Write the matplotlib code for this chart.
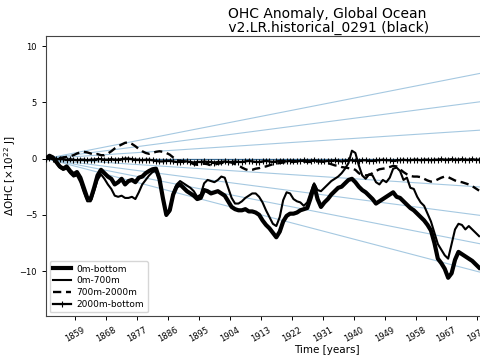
import numpy as np
import matplotlib
matplotlib.use("Agg")
import matplotlib.pyplot as plt

# ---------------- data (annual, mid-year) ----------------
start_year = 1850.5
ohc_0m_bottom = [
    0.0, 0.25, 0.1, -0.3, -0.7, -0.9, -0.7, -1.1, -1.4, -1.2,
    -1.7, -2.6, -3.5, -3.6, -2.6, -1.5, -1.0, -1.3, -1.6, -1.8,
    -2.3, -2.1, -1.8, -2.3, -2.0, -1.9, -2.1, -1.7, -1.6, -1.3,
    -1.1, -0.95, -0.9, -1.8, -3.5, -5.0, -4.6, -3.2, -2.5, -2.3,
    -2.6, -2.9, -3.1, -3.3, -3.6, -3.5, -2.8, -2.9, -3.1, -3.0,
    -2.9, -3.1, -3.3, -3.8, -4.3, -4.5, -4.6, -4.6, -4.5, -4.7,
    -4.7, -4.8, -5.0, -5.5, -5.9, -6.2, -6.6, -7.0, -6.5, -5.6,
    -5.1, -4.9, -4.9, -4.8, -4.6, -4.5, -4.4, -3.5, -2.4, -3.6,
    -4.3, -3.9, -3.6, -3.2, -2.9, -2.6, -2.5, -2.2, -1.9, -1.8,
    -2.1, -2.5, -2.8, -3.0, -3.3, -3.6, -4.0, -3.8, -3.6, -3.4,
    -3.2, -3.0, -3.4, -3.5, -3.8, -4.1, -4.4, -4.6, -4.9, -5.2,
    -5.5, -5.9, -6.4, -7.5, -8.9, -9.3, -9.8, -10.6, -10.2, -9.0,
    -8.3, -8.5, -8.7, -8.9, -9.1, -9.4, -9.7,
]
ohc_0m_700m = [
    0.0, 0.2, 0.0, -0.4, -0.8, -1.0, -0.9, -1.3, -1.6, -1.5,
    -2.1, -3.0, -3.8, -3.8, -2.9, -1.9, -1.4, -1.8, -2.3, -2.7,
    -3.3, -3.4, -3.3, -3.5, -3.5, -3.4, -3.6, -3.0, -2.3, -1.9,
    -1.5, -1.2, -1.1, -1.9, -3.6, -5.1, -4.7, -3.1, -2.3, -2.0,
    -2.2, -2.4, -2.6, -2.9, -3.4, -3.2, -2.2, -1.9, -2.0, -2.1,
    -1.9, -1.6, -1.7, -2.6, -3.5, -4.0, -4.0, -3.8, -3.5, -3.3,
    -3.1, -3.1, -3.4, -3.9, -4.6, -5.2, -5.8, -6.0, -5.2, -3.7,
    -3.0, -3.1, -3.6, -3.8, -3.9, -4.2, -3.9, -3.0, -2.2, -2.8,
    -2.9, -2.6, -2.3, -2.0, -1.8, -1.6, -1.3, -0.9, -0.4, 0.7,
    0.5, -0.6, -1.5, -1.8, -1.4, -1.5, -2.1, -2.3, -1.9, -2.1,
    -1.7, -0.9, -0.8, -1.1, -1.9, -1.7, -2.6, -2.7, -3.4, -3.9,
    -4.2, -4.9, -5.6, -6.6, -7.6, -8.1, -8.6, -8.9, -7.6, -6.3,
    -5.8, -5.9, -6.3, -6.0, -6.3, -6.6, -6.9,
]
ohc_700m_2000m = [
    0.0, 0.05, 0.0, 0.0, 0.05, 0.1, 0.15, 0.2, 0.3, 0.45,
    0.55, 0.6, 0.55, 0.45, 0.35, 0.4, 0.3, 0.3, 0.45, 0.65,
    0.9, 1.1, 1.25, 1.4, 1.45, 1.3, 1.1, 0.85, 0.65, 0.5,
    0.42, 0.5, 0.6, 0.65, 0.6, 0.5, 0.35, 0.1, -0.15, -0.2,
    -0.25, -0.3, -0.35, -0.5, -0.55, -0.5, -0.45, -0.5, -0.6, -0.55,
    -0.45, -0.4, -0.35, -0.3, -0.35, -0.5, -0.6, -0.8, -0.95, -1.05,
    -1.0, -0.9, -0.85, -0.75, -0.7, -0.6, -0.5, -0.45, -0.4, -0.35,
    -0.3, -0.3, -0.3, -0.25, -0.25, -0.25, -0.3, -0.3, -0.3, -0.25,
    -0.25, -0.3, -0.4, -0.5, -0.6, -0.65, -0.75, -0.8, -0.85, -0.9,
    -1.0, -1.3, -1.45, -1.5, -1.45, -1.3, -1.1, -0.95, -0.9, -0.85,
    -0.75, -0.65, -0.7, -0.95, -1.2, -1.4, -1.55, -1.6, -1.6, -1.65,
    -1.8, -1.95, -2.05, -2.0, -1.85, -1.7, -1.6, -1.65, -1.8, -1.95,
    -2.05, -2.1, -2.2, -2.3, -2.45, -2.65, -2.85,
]
ohc_2000m_bottom = [
    0.0, 0.05, 0.0, -0.05, -0.05, -0.05, -0.1, -0.05, -0.1, -0.15,
    -0.1, -0.1, -0.15, -0.1, -0.1, -0.05, -0.05, -0.1, -0.1, -0.05,
    -0.1, -0.1, -0.05, 0.0, 0.0, -0.05, -0.1, -0.1, -0.15, -0.1,
    -0.1, -0.15, -0.2, -0.25, -0.25, -0.2, -0.2, -0.25, -0.3, -0.3,
    -0.25, -0.25, -0.3, -0.35, -0.3, -0.3, -0.25, -0.3, -0.3, -0.35,
    -0.3, -0.3, -0.25, -0.3, -0.3, -0.25, -0.3, -0.3, -0.25, -0.2,
    -0.25, -0.3, -0.3, -0.25, -0.2, -0.25, -0.3, -0.25, -0.2, -0.2,
    -0.25, -0.2, -0.2, -0.25, -0.2, -0.15, -0.2, -0.2, -0.15, -0.2,
    -0.25, -0.25, -0.2, -0.2, -0.15, -0.2, -0.25, -0.2, -0.15, -0.15,
    -0.2, -0.2, -0.15, -0.15, -0.2, -0.2, -0.15, -0.15, -0.1, -0.15,
    -0.15, -0.2, -0.15, -0.15, -0.1, -0.15, -0.15, -0.1, -0.1, -0.15,
    -0.1, -0.1, -0.15, -0.1, -0.1, -0.05, -0.1, -0.1, -0.05, -0.1,
    -0.1, -0.05, -0.1, -0.1, -0.05, -0.1, -0.1,
]
series_labels = ["0m-bottom", "0m-700m", "700m-2000m", "2000m-bottom"]
trend_rates = [0.06, 0.04, 0.02, -0.02, -0.04, -0.06, -0.08]  # 1e22 J / yr
x_ticks = list(range(1859, 2015, 9))

years = start_year + np.arange(len(ohc_0m_bottom))

# ---------------- figure ----------------
fig = plt.figure(figsize=(4.8, 3.6), dpi=100)
ax = fig.add_axes([46 / 480, 44 / 360, 562 / 480, 280 / 360])
x0, x1 = 1850.5, 2014.0
ax.set_xlim(x0, x1)
ax.set_ylim(-14.0, 10.9)

# trend fan
xx = np.array([x0, x1])
for r in trend_rates:
    ax.plot(xx, r * (xx - x0), color="tab:blue", alpha=0.4, lw=0.8, zorder=1)
ax.axhline(0, color="#3d6d96", lw=0.9, zorder=1)

ax.plot(years, ohc_0m_bottom, color="k", lw=3.0, label=series_labels[0], zorder=3)
ax.plot(years, ohc_0m_700m, color="k", lw=1.5, label=series_labels[1], zorder=3)
ax.plot(years, ohc_700m_2000m, color="k", lw=1.7, ls=(0, (3.5, 2.0)),
        label=series_labels[2], zorder=3)
ax.plot(years, ohc_2000m_bottom, color="k", lw=1.6, marker="+", ms=4,
        mew=0.8, label=series_labels[3], zorder=3)

ax.set_xticks(x_ticks)
ax.tick_params(axis="both", labelsize=6, length=3, width=0.7)
plt.setp(ax.get_xticklabels(), rotation=30)
ax.set_yticks([-10, -5, 0, 5, 10])
for s in ax.spines.values():
    s.set_linewidth(0.8)
    s.set_color("#444444")

ax.set_xlabel("Time [years]", fontsize=7.5, labelpad=1)
ax.set_ylabel(r"$\Delta$OHC [$\times 10^{22}$ J]", fontsize=7.5, labelpad=1)
ax.set_title("OHC Anomaly, Global Ocean\n v2.LR.historical_0291 (black)",
             fontsize=10, pad=3, linespacing=1.0)

leg = ax.legend(loc="lower left", fontsize=6.5, handlelength=2.0,
                borderaxespad=0.4, labelspacing=0.3, handletextpad=0.6)

fig.savefig("out.png", dpi=100)
